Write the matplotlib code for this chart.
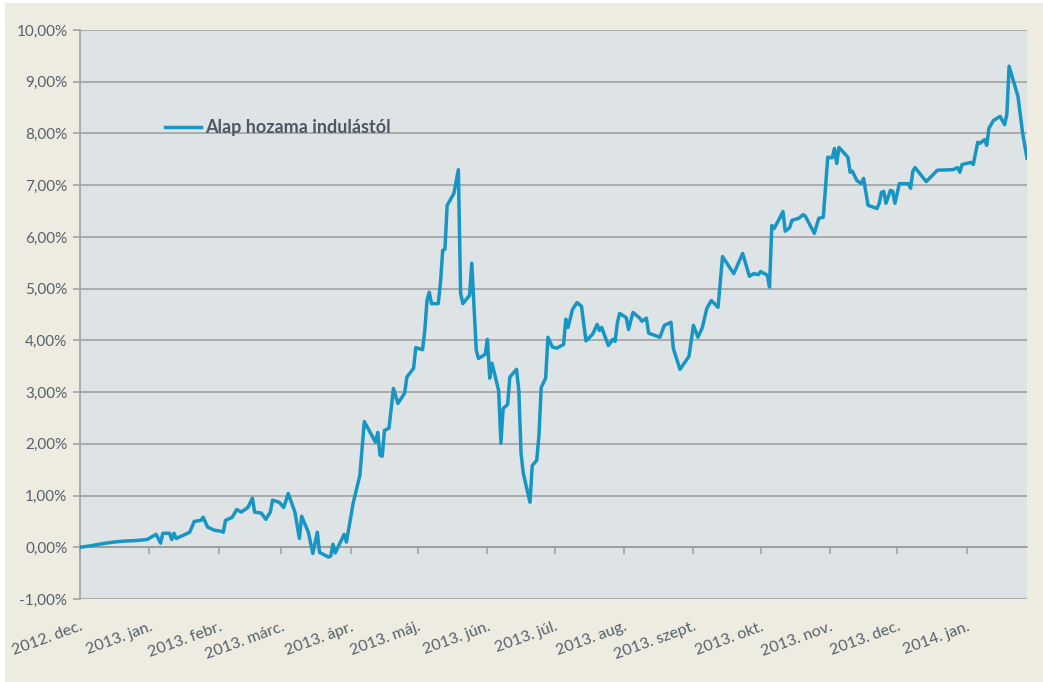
import datetime as dt
import matplotlib
matplotlib.use("Agg")
import matplotlib.pyplot as plt
from matplotlib.patches import Rectangle
from matplotlib.ticker import FuncFormatter

# fund start, offsets in days
start = dt.date(2012, 12, 1)
days = [0, 5, 10, 15, 20, 25, 30, 34, 36, 37, 40, 41, 42, 43, 48, 49, 51, 54, 55, 57,
        60, 63, 64, 65, 68, 70, 72, 75, 77, 78, 81, 83, 85, 86, 89, 91, 93, 96, 98, 99,
        102, 104, 106, 107, 111, 112, 113, 114, 118, 119, 122, 125, 127, 132, 133, 134,
        135, 136, 138, 140, 142, 145, 146, 149, 150, 153, 154, 155, 156, 157, 160, 161,
        162, 163, 164, 167, 169, 170, 171, 174, 175, 177, 178, 181, 182, 183, 184, 187,
        188, 189, 191, 192, 195, 196, 197, 198, 201, 202, 204, 205, 206, 208, 209, 211,
        213, 216, 217, 218, 220, 222, 224, 226, 229, 231, 232, 233, 236, 238, 239, 240,
        241, 244, 245, 247, 250, 251, 253, 254, 259, 261, 264, 265, 266, 268, 272, 274,
        276, 278, 280, 282, 285, 287, 292, 296, 299, 301, 303, 304, 307, 308, 309, 310,
        312, 314, 315, 317, 318, 321, 323, 324, 328, 330, 332, 334, 336, 337, 338, 339,
        343, 344, 345, 347, 349, 350, 352, 356, 357, 358, 359, 360, 362, 363, 364, 366,
        370, 371, 372, 373, 378, 383, 390, 392, 393, 394, 398, 399, 401, 402, 404, 405,
        406, 408, 411, 413, 414, 415, 419, 421, 423]
hozam = [0.00, 0.03, 0.07, 0.10, 0.12, 0.13, 0.15, 0.25, 0.08, 0.27, 0.27, 0.15, 0.27, 0.17,
         0.27, 0.29, 0.50, 0.52, 0.58, 0.39, 0.33, 0.31, 0.29, 0.52, 0.58, 0.73, 0.68, 0.77,
         0.95, 0.68, 0.66, 0.54, 0.68, 0.91, 0.87, 0.77, 1.04, 0.68, 0.17, 0.60, 0.29, -0.12,
         0.29, -0.10, -0.19, -0.17, 0.06, -0.11, 0.25, 0.10, 0.85, 1.39, 2.43, 2.03, 2.22,
         1.78, 1.76, 2.26, 2.30, 3.07, 2.78, 2.98, 3.29, 3.46, 3.86, 3.82, 4.19, 4.77, 4.93,
         4.71, 4.71, 5.10, 5.74, 5.76, 6.61, 6.84, 7.30, 4.91, 4.71, 4.87, 5.49, 3.81, 3.65,
         3.73, 4.02, 3.27, 3.56, 3.03, 2.01, 2.68, 2.76, 3.29, 3.44, 3.03, 1.82, 1.43, 0.87,
         1.58, 1.68, 2.16, 3.09, 3.27, 4.06, 3.87, 3.85, 3.92, 4.41, 4.25, 4.60, 4.73, 4.66,
         3.99, 4.12, 4.31, 4.19, 4.25, 3.90, 4.02, 3.98, 4.33, 4.52, 4.44, 4.21, 4.54, 4.43,
         4.37, 4.43, 4.14, 4.06, 4.29, 4.35, 3.85, 3.71, 3.44, 3.69, 4.29, 4.06, 4.25, 4.62,
         4.77, 4.64, 5.62, 5.29, 5.68, 5.24, 5.29, 5.27, 5.33, 5.26, 5.03, 6.22, 6.16, 6.32,
         6.49, 6.11, 6.18, 6.32, 6.36, 6.43, 6.40, 6.07, 6.36, 6.38, 7.54, 7.53, 7.71, 7.42,
         7.73, 7.54, 7.25, 7.27, 7.09, 7.03, 7.13, 6.61, 6.55, 6.65, 6.86, 6.88, 6.65, 6.90,
         6.88, 6.65, 7.03, 7.03, 6.94, 7.27, 7.34, 7.07, 7.29, 7.30, 7.34, 7.25, 7.40, 7.44,
         7.40, 7.83, 7.81, 7.88, 7.77, 8.10, 8.25, 8.33, 8.17, 8.37, 9.30, 8.71, 8.02, 7.52]

honapok = ["2012. dec.", "2013. jan.", "2013. febr.", "2013. márc.", "2013. ápr.",
           "2013. máj.", "2013. jún.", "2013. júl.", "2013. aug.", "2013. szept.",
           "2013. okt.", "2013. nov.", "2013. dec.", "2014. jan."]
honap_eleje = [dt.date(2012, 12, 1)] + [dt.date(2013, m, 1) for m in range(1, 13)] + [dt.date(2014, 1, 1)]

datumok = [start + dt.timedelta(days=d) for d in days]

plt.rcParams['font.family'] = ['Lato', 'DejaVu Sans']
szoveg = '#56616C'
racs = '#9C9C9C'

fig = plt.figure(figsize=(10.43, 6.82), dpi=100, facecolor='white')
fig.patches.append(Rectangle((5 / 1043, 0), 1, 1 - 3 / 682, transform=fig.transFigure,
                             facecolor='#EEEBE1', edgecolor='none', zorder=-10))
ax = fig.add_axes([80 / 1043, 1 - 599 / 682, 947 / 1043, 569 / 682])
ax.set_facecolor('#DEE3E6')

ax.plot(datumok, hozam, color='#1796C4', lw=2.5, label='Alap hozama indulástól',
        solid_joinstyle='round', zorder=3)

ax.set_ylim(-1, 10)
ax.set_yticks(range(-1, 11))
ax.yaxis.set_major_formatter(FuncFormatter(lambda v, p: f"{v:.2f}%".replace('.', ',')))
ax.grid(axis='y', color=racs, lw=1.1)
ax.set_axisbelow(True)

ax.set_xlim(dt.date(2012, 12, 1), dt.date(2014, 1, 28))
ax.set_xticks(honap_eleje)
ax.set_xticklabels(honapok, rotation=20, ha='right', rotation_mode='anchor')
ax.tick_params(axis='x', length=0, pad=15, labelsize=11.5, labelcolor=szoveg)
ax.tick_params(axis='y', length=5, width=1.1, color=racs, labelsize=11, labelcolor=szoveg, pad=4)

for s in ['top', 'right', 'bottom']:
    ax.spines[s].set_visible(False)
ax.spines['left'].set_color(racs)
ax.spines['left'].set_linewidth(1.1)

# horizontal axis crossing at 0 with month ticks
nulla = ax.secondary_xaxis(1 / 11)
nulla.set_xticks(honap_eleje)
nulla.tick_params(axis='x', direction='out', length=5, width=1.1, color=racs, labelbottom=False)
nulla.spines['bottom'].set_color(racs)
nulla.spines['bottom'].set_linewidth(1.1)

leg = ax.legend(loc='center left', bbox_to_anchor=(0.09, 0.828), frameon=False,
                handlelength=2.0, handletextpad=0.2, borderaxespad=0, borderpad=0,
                prop={'weight': 'bold', 'size': 13})
for t in leg.get_texts():
    t.set_color('#4C5864')

fig.savefig('out.png', dpi=100, facecolor=fig.get_facecolor())
